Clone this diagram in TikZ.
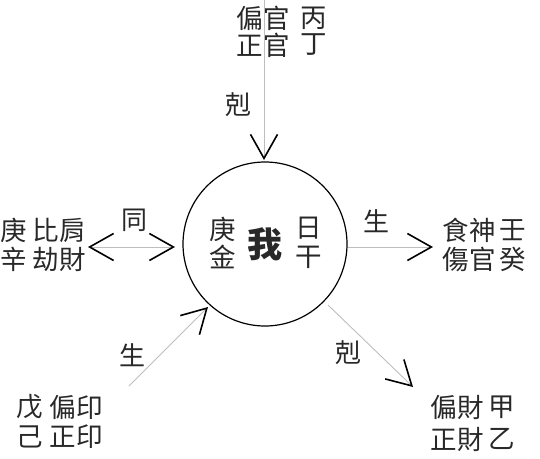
\documentclass[tikz,border=0pt]{standalone}
\usepackage{fontspec}
\setmainfont{Noto Sans CJK TC}
\usetikzlibrary{arrows.meta}
\definecolor{txt}{RGB}{40,40,40}
\definecolor{ln}{RGB}{190,190,190}
\tikzset{
  word/.style={inner sep=0pt, text=txt, font=\fontsize{26.5}{30}\selectfont},
  lbl/.style={inner sep=0pt, text=txt, font=\fontsize{26}{30}\selectfont},
  conn/.style={draw=ln, line width=0.9pt, arrows={-{Straight Barb[length=24pt,width=27pt,line width=1.6pt,color=black]}}},
  conn2/.style={draw=ln, line width=0.9pt, arrows={{Straight Barb[length=24pt,width=27pt,line width=1.6pt,color=black]}-{Straight Barb[length=24pt,width=27pt,line width=1.6pt,color=black]}}},
}
\begin{document}
\begin{tikzpicture}[x=1pt,y=-1pt]
\useasboundingbox (0,0) rectangle (540,458);
% circle
\node[draw=black, line width=1.2pt, circle, minimum size=164pt, inner sep=0pt] (me) at (265,244) {};
\node[word] (c1) at (223,229) {庚};
\node[word] (c2) at (223,257) {金};
\node[word, font=\fontsize{35}{38}\selectfont\bfseries] (wo) at (265,244) {我};
\node[word] (c3) at (309,228) {日};
\node[word] (c4) at (309,257) {干};
% anchors
\coordinate (topend) at (264,0);
\coordinate (toptip) at (264,160);
\coordinate (ltip) at (88,247);
\coordinate (rtipl) at (175,247);
\coordinate (rstart) at (348,247);
\coordinate (rtip) at (433,247);
\coordinate (blstart) at (129,386);
\coordinate (bltip) at (208,307);
\coordinate (brstart) at (328,305);
\coordinate (brtip) at (413,387);
% connectors
\draw[conn] (topend) -- (toptip);
\draw[conn2] (ltip) -- (rtipl);
\draw[conn] (rstart) -- (rtip);
\draw[conn] (blstart) -- (bltip);
\draw[conn] (brstart) -- (brtip);
% labels
\node[lbl] (k1) at (238,105) {剋};
\node[lbl] (t1) at (134,220) {同};
\node[lbl] (s1) at (376,221) {生};
\node[lbl] (s2) at (132,355) {生};
\node[lbl] (k2) at (348,353) {剋};
% top
\node[word] (a1) at (263,18) {偏官};
\node[word] (a2) at (314,18) {丙};
\node[word] (a3) at (263,45) {正官};
\node[word] (a4) at (314,45) {丁};
% left
\node[word] (b1) at (14,230) {庚};
\node[word] (b2) at (59,230) {比肩};
\node[word] (b3) at (14,259) {辛};
\node[word] (b4) at (59,259) {劫財};
% right
\node[word] (d1) at (469,230) {食神};
\node[word] (d2) at (513,230) {壬};
\node[word] (d3) at (469,259) {傷官};
\node[word] (d4) at (513,259) {癸};
% bottom left
\node[word] (e1) at (30,407) {戊};
\node[word] (e2) at (76,407) {偏印};
\node[word] (e3) at (30,437) {己};
\node[word] (e4) at (76,437) {正印};
% bottom right
\node[word] (f1) at (457,407) {偏財};
\node[word] (f2) at (502,407) {甲};
\node[word] (f3) at (457,439) {正財};
\node[word] (f4) at (502,439) {乙};
\end{tikzpicture}
\end{document}
